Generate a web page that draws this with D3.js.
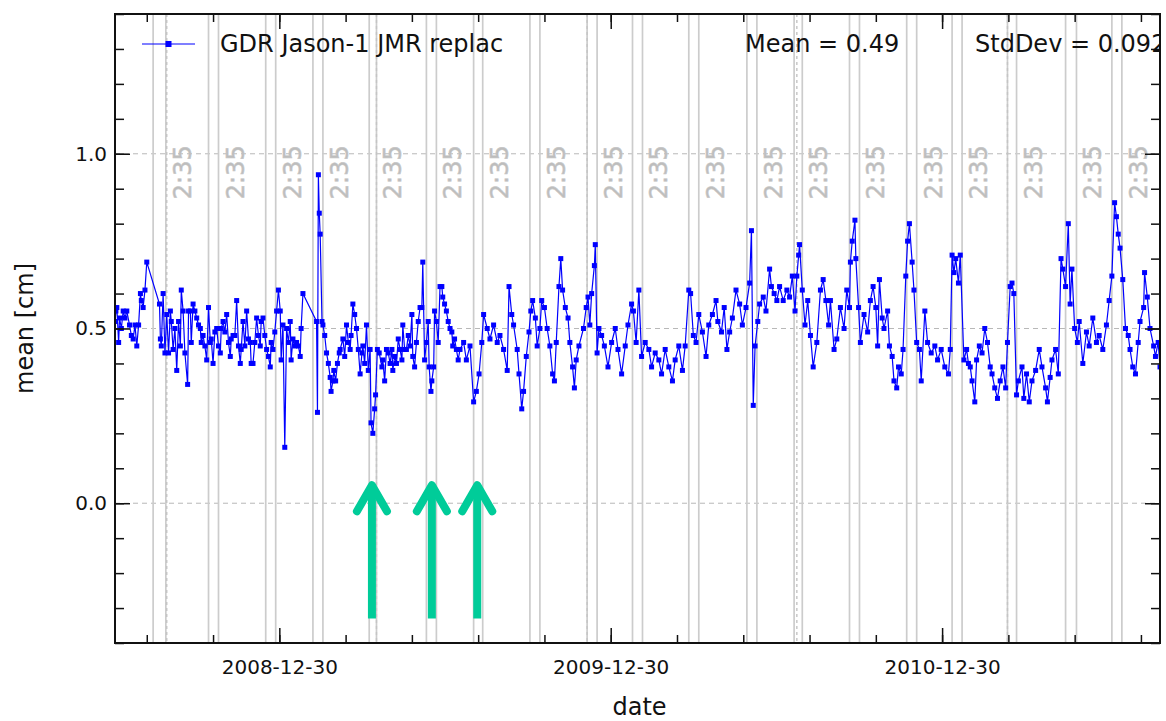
<!DOCTYPE html>
<html>
<head>
<meta charset="utf-8">
<script src="https://cdn.jsdelivr.net/npm/d3@7"></script>
<style>
  body { margin: 0; background: #fff; }
  text { font-family: "DejaVu Sans", sans-serif; }
</style>
</head>
<body>
<div id="chart"></div>
<script>
// days since startDate, and the daily mean [cm]
const startDate = "2008-07-02"
const endDate = "2011-08-27"

const dayOffsets = [
  0, 1, 2, 4, 5, 7, 9, 11, 13, 16, 18, 20, 22, 24, 26, 28, 29, 31, 33, 35,
  49, 50, 51, 53, 55, 57, 59, 61, 62, 64, 66, 68, 70, 72, 73, 75, 77, 80, 81, 83,
  84, 86, 88, 90, 92, 94, 95, 97, 99, 101, 103, 105, 106, 108, 110, 112, 114, 116, 117, 119,
  121, 123, 125, 127, 128, 130, 132, 134, 136, 138, 139, 141, 143, 145, 147, 149, 150, 152, 154, 156,
  158, 160, 161, 163, 165, 167, 169, 171, 172, 174, 176, 178, 180, 182, 183, 185, 187, 189, 191, 193,
  194, 196, 198, 200, 202, 204, 205, 207, 222, 223, 224, 225, 226, 228, 229, 231, 233, 235, 237, 238,
  240, 241, 243, 245, 247, 248, 251, 253, 255, 257, 259, 260, 262, 264, 266, 268, 270, 272, 273, 275,
  277, 279, 281, 282, 284, 286, 287, 289, 291, 294, 295, 297, 299, 301, 303, 305, 306, 308, 310, 312,
  314, 316, 317, 319, 321, 323, 325, 327, 328, 330, 332, 334, 336, 338, 339, 341, 343, 345, 346, 348,
  349, 351, 352, 354, 356, 358, 360, 361, 363, 365, 367, 369, 371, 372, 374, 376, 378,
  380, 384, 387, 391, 395, 398, 401, 404, 406, 410, 413, 417, 421, 424, 428, 432, 434, 437, 439, 443,
  445, 448, 450, 453, 456, 458, 460, 463, 465, 468, 470, 473, 476, 479, 482, 484, 486, 489, 491, 493,
  496, 499, 501, 504, 506, 508, 511, 516, 519, 521, 523, 525, 528, 529, 531, 533, 536, 539, 543, 547,
  551, 554, 558, 562, 565, 569, 571, 574, 577, 580, 584, 588, 591, 595, 599, 602, 606, 610, 614, 617,
  621, 625, 628, 632, 634, 637, 640, 643, 647, 651, 654, 658, 662, 664, 668, 671, 674, 677, 680, 684,
  688, 691, 695, 699, 701, 703, 705, 708, 710, 714, 717, 721, 723, 726, 729, 732, 736, 740, 743, 746,
  749, 751, 753, 754, 757, 760, 763, 766, 769, 773, 777, 780, 783, 786, 788, 792, 795, 799, 803, 806,
  809, 810, 812, 815, 816, 819, 821, 825, 829, 832, 835, 838, 840, 842, 845, 847, 851, 853, 856, 858,
  861, 863, 866, 868, 871, 873, 875, 878, 880, 883, 886, 888, 892, 895, 899, 903, 906, 910, 914, 918,
  920, 922, 924, 926, 929, 931, 935, 938, 940, 942, 944, 947, 949, 952, 955, 958, 961, 964, 966, 969,
  972, 975, 978, 981, 983, 986, 988, 990, 993, 995, 999, 1001, 1004, 1007, 1010, 1014, 1018, 1021, 1025, 1027,
  1030, 1032, 1036, 1039, 1042, 1044, 1047, 1050, 1052, 1054, 1057, 1060, 1062, 1066, 1070, 1073, 1077, 1081, 1084, 1088,
  1092, 1095, 1098, 1101, 1103, 1105, 1107, 1110, 1113, 1116, 1118, 1121, 1124, 1127, 1129, 1133, 1134, 1137, 1140, 1144,
  1146, 1149, 1151, 1154
]

const meanValues = [
  .52, .55, .56, .46, .53, .50, .55, .53, .55, .51, .48, .47, .51, .45, .51, .60, .58, .56, .61, .69,
  .57, .47, .45, .60, .43, .54, .43, .55, .52, .44, .50, .38, .52, .45, .61, .55, .43, .34, .55, .55,
  .46, .57, .55, .53, .51, .50, .46, .48, .45, .41, .56, .46, .47, .40, .49, .50, .45, .43, .50, .52,
  .49, .54, .46, .42, .47, .48, .48, .58, .45, .40, .44, .52, .45, .55, .47, .46, .40, .40, .46, .53,
  .48, .45, .52, .53, .48, .44, .42, .39, .46, .44, .49, .55, .61, .55, .41, .51, .16, .50, .46, .52,
  .41, .47, .45, .46, .45, .42, .50, .60, .52, .26, .94, .83, .77, .52, .51, .48, .43, .40, .36, .32,
  .35, .38, .35, .40, .43, .44, .47, .42, .51, .46, .44, .48, .57, .54, .50, .44, .37, .43, .45, .40,
  .51, .38, .44, .23, .20, .27, .31, .44, .43, .39, .41, .35, .44, .43, .40, .44, .38, .42, .40, .47,
  .44, .41, .51, .44, .44, .48, .45, .54, .42, .39, .46, .52, .56, .56, .69, .41, .46, .52, .39, .32,
  .35, .39, .55, .52, .46, .62, .62, .59, .57, .55, .52, .50, .49, .45, .47, .44, .41,
  .44, .46, .41, .45, .29, .32, .37, .46, .54, .50, .47, .51, .46, .48, .44, .38, .62, .54, .51, .44,
  .37, .27, .32, .42, .49, .55, .58, .53, .45, .50, .58, .56, .50, .45, .37, .35, .46, .62, .70, .61,
  .56, .53, .46, .39, .33, .41, .45, .50, .56, .59, .51, .60, .68, .74, .43, .50, .48, .45, .39, .46,
  .50, .44, .37, .45, .51, .57, .55, .46, .61, .42, .46, .44, .39, .43, .41, .37, .44, .39, .35, .41,
  .45, .38, .45, .61, .60, .48, .46, .54, .49, .42, .51, .54, .58, .52, .49, .56, .44, .49, .53, .61,
  .57, .51, .56, .63, .78, .28, .45, .52, .57, .59, .55, .67, .62, .60, .58, .62, .58, .61, .59, .65,
  .55, .65, .71, .74, .61, .51, .58, .48, .39, .46, .61, .64, .58, .51, .58, .44, .47, .56, .50, .61,
  .56, .69, .75, .81, .70, .56, .46, .54, .49, .58, .62, .56, .45, .64, .53, .50, .55, .45, .42, .35,
  .33, .39, .37, .44, .65, .75, .80, .69, .61, .46, .44, .35, .55, .46, .43, .45, .41, .44, .39, .37,
  .44, .71, .66, .70, .63, .71, .41, .44, .40, .39, .35, .29, .41, .45, .43, .50, .46, .39, .37, .33,
  .30, .35, .39, .33, .46, .62, .63, .60, .31, .35, .39, .30, .37, .29, .35, .38, .44, .39, .33, .29,
  .36, .41, .44, .37, .70, .67, .62, .80, .57, .67, .50, .46, .52, .40, .49, .45, .53, .46, .48, .44,
  .51, .58, .65, .86, .82, .77, .73, .64, .50, .48, .44, .39, .37, .46, .52, .56, .66, .59, .50, .45,
  .42, .46, .39, .50
]

// grey event markers (day offsets), the dashed markers and the arrows
const eventStarts = [42, 103, 166, 218, 280, 343, 395, 457, 520, 570, 632, 696, 748, 809, 872, 922, 983, 1047, 1098]
const eventEnds = [56, 114, 177, 229, 288, 354, 405, 468, 531, 581, 643, 707, 757, 820, 883, 933, 993, 1059, 1109]
const dashedDays = [57, 288, 520, 751, 983]
const arrowDays = [283, 349, 399]
const eventLabel = "2:35"

const majorTickLabels = ["2008-12-30", "2009-12-30", "2010-12-30"]
const yMajorTicks = [0.0, 0.5, 1.0]
const seriesName = "GDR Jason-1 JMR replac"
const statsText = ["Mean = 0.49", "StdDev = 0.092"]

const width = 1166
const height = 721
const plotLeft = 115, plotRight = 1160, plotTop = 14, plotBottom = 643
const markerSize = 5

const parse = d3.utcParse("%Y-%m-%d")
const start = parse(startDate)
const dayToDate = d => d3.utcDay.offset(start, d)

const x = d3.scaleUtc().domain([start, parse(endDate)]).range([plotLeft, plotRight])
const y = d3.scaleLinear().domain([-0.4, 1.4]).range([plotBottom, plotTop])

const svg = d3.select("#chart").append("svg")
    .attr("width", width)
    .attr("height", height)

svg.append("clipPath").attr("id", "plot-clip")
    .append("rect")
    .attr("x", plotLeft).attr("y", plotTop)
    .attr("width", plotRight - plotLeft).attr("height", plotBottom - plotTop)

const plot = svg.append("g").attr("clip-path", "url(#plot-clip)")

// horizontal grid
plot.selectAll(".hgrid")
    .data(yMajorTicks)
    .enter()
    .append("line")
    .attr("x1", plotLeft).attr("x2", plotRight)
    .attr("y1", d => y(d)).attr("y2", d => y(d))
    .attr("stroke", "#b8b8b8")
    .attr("stroke-width", 1)
    .attr("stroke-dasharray", "5,4")

// event pairs
const eventDays = eventStarts.concat(eventEnds)
plot.selectAll(".event")
    .data(eventDays)
    .enter()
    .append("line")
    .attr("x1", d => x(dayToDate(d))).attr("x2", d => x(dayToDate(d)))
    .attr("y1", plotTop).attr("y2", plotBottom)
    .attr("stroke", "#cccccc")
    .attr("stroke-width", 1.7)

plot.selectAll(".dashed")
    .data(dashedDays)
    .enter()
    .append("line")
    .attr("x1", d => x(dayToDate(d))).attr("x2", d => x(dayToDate(d)))
    .attr("y1", plotTop).attr("y2", plotBottom)
    .attr("stroke", "#c4c4c4")
    .attr("stroke-width", 1.4)
    .attr("stroke-dasharray", "3,3")

plot.selectAll(".event-label")
    .data(eventEnds)
    .enter()
    .append("text")
    .attr("transform", d => `translate(${x(dayToDate(d)) + 25},${y(0.87)}) rotate(-90)`)
    .attr("font-size", 24)
    .attr("fill", "#bdbdbd")
    .attr("stroke", "#c6c6c6")
    .attr("stroke-width", 0.6)
    .text(eventLabel)

// series
const points = dayOffsets.map((d, i) => ({ date: dayToDate(d), value: meanValues[i] }))

plot.append("path")
    .datum(points)
    .attr("fill", "none")
    .attr("stroke", "#0000ff")
    .attr("stroke-width", 1.2)
    .attr("d", d3.line().x(d => x(d.date)).y(d => y(d.value)))

plot.selectAll(".pt")
    .data(points)
    .enter()
    .append("rect")
    .attr("x", d => x(d.date) - markerSize / 2)
    .attr("y", d => y(d.value) - markerSize / 2)
    .attr("width", markerSize)
    .attr("height", markerSize)
    .attr("fill", "#0000ff")

// arrows
const arrowTop = 0.06, arrowBottom = -0.33
const arrows = plot.selectAll(".arrow")
    .data(arrowDays)
    .enter()
    .append("g")
    .attr("stroke", "#00cc99")
    .attr("stroke-width", 8)
    .attr("fill", "none")

arrows.append("line")
    .attr("x1", d => x(dayToDate(d))).attr("x2", d => x(dayToDate(d)))
    .attr("y1", y(arrowBottom)).attr("y2", y(arrowTop) + 3)

arrows.append("path")
    .attr("stroke-linecap", "round")
    .attr("stroke-linejoin", "round")
    .attr("d", d => {
        const cx = x(dayToDate(d)), ty = y(arrowTop)
        return `M${cx - 15},${ty + 29}L${cx},${ty + 3}L${cx + 15},${ty + 29}`
    })

// ticks
const firstMajor = parse(majorTickLabels[0])
const xTicks = d3.range(-2, 14).map(k => d3.utcDay.offset(firstMajor, 73 * k))
const xMajor = majorTickLabels.map(parse)
const yMinor = d3.range(-4, 15).map(k => k / 10)

const axisStyle = g => {
    g.select(".domain").remove()
    g.selectAll(".tick line").attr("stroke", "#111").attr("stroke-width", 1.5)
    g.selectAll("text").attr("font-size", 20).attr("fill", "#111").attr("font-family", "DejaVu Sans")
}

svg.append("g").attr("transform", `translate(0,${plotBottom})`)
    .call(d3.axisBottom(x).tickValues(xTicks).tickSize(-8).tickFormat(""))
    .call(axisStyle)
svg.append("g").attr("transform", `translate(0,${plotBottom})`)
    .call(d3.axisBottom(x).tickValues(xMajor).tickSize(-15).tickPadding(17).tickFormat(d3.utcFormat("%Y-%m-%d")))
    .call(axisStyle)
svg.append("g").attr("transform", `translate(0,${plotTop})`)
    .call(d3.axisTop(x).tickValues(xTicks).tickSize(-8).tickFormat(""))
    .call(axisStyle)
svg.append("g").attr("transform", `translate(0,${plotTop})`)
    .call(d3.axisTop(x).tickValues(xMajor).tickSize(-15).tickFormat(""))
    .call(axisStyle)

svg.append("g").attr("transform", `translate(${plotLeft},0)`)
    .call(d3.axisLeft(y).tickValues(yMinor).tickSize(-9).tickFormat(""))
    .call(axisStyle)
svg.append("g").attr("transform", `translate(${plotLeft},0)`)
    .call(d3.axisLeft(y).tickValues(yMajorTicks).tickSize(-15).tickPadding(8).tickFormat(d3.format(".1f")))
    .call(axisStyle)
svg.append("g").attr("transform", `translate(${plotRight},0)`)
    .call(d3.axisRight(y).tickValues(yMinor).tickSize(-9).tickFormat(""))
    .call(axisStyle)
svg.append("g").attr("transform", `translate(${plotRight},0)`)
    .call(d3.axisRight(y).tickValues(yMajorTicks).tickSize(-15).tickFormat(""))
    .call(axisStyle)

// frame
svg.append("rect")
    .attr("x", plotLeft).attr("y", plotTop)
    .attr("width", plotRight - plotLeft).attr("height", plotBottom - plotTop)
    .attr("fill", "none")
    .attr("stroke", "#111")
    .attr("stroke-width", 2)

// axis labels
svg.append("text")
    .attr("x", (plotLeft + plotRight) / 2 + 2)
    .attr("y", 715)
    .attr("text-anchor", "middle")
    .attr("font-size", 24)
    .attr("fill", "#111")
    .text("date")

svg.append("text")
    .attr("transform", `translate(33,${y(0.5)}) rotate(-90)`)
    .attr("text-anchor", "middle")
    .attr("font-size", 24)
    .attr("fill", "#111")
    .text("mean [cm]")

// legend and stats
const legendY = 44
svg.append("line")
    .attr("x1", 142).attr("x2", 195)
    .attr("y1", legendY).attr("y2", legendY)
    .attr("stroke", "#0000ff")
    .attr("stroke-width", 1.2)
svg.append("rect")
    .attr("x", 168.5 - 3).attr("y", legendY - 3)
    .attr("width", 6).attr("height", 6)
    .attr("fill", "#0000ff")

const labels = svg.append("g").attr("clip-path", "url(#plot-clip)")
labels.append("text")
    .attr("x", 220).attr("y", legendY + 8)
    .attr("font-size", 24)
    .attr("fill", "#111")
    .text(seriesName)

labels.selectAll(".stat")
    .data(statsText)
    .enter()
    .append("text")
    .attr("x", (d, i) => i === 0 ? 745 : 975)
    .attr("y", legendY + 8)
    .attr("font-size", 24)
    .attr("fill", "#111")
    .text(d => d)
</script>
</body>
</html>
